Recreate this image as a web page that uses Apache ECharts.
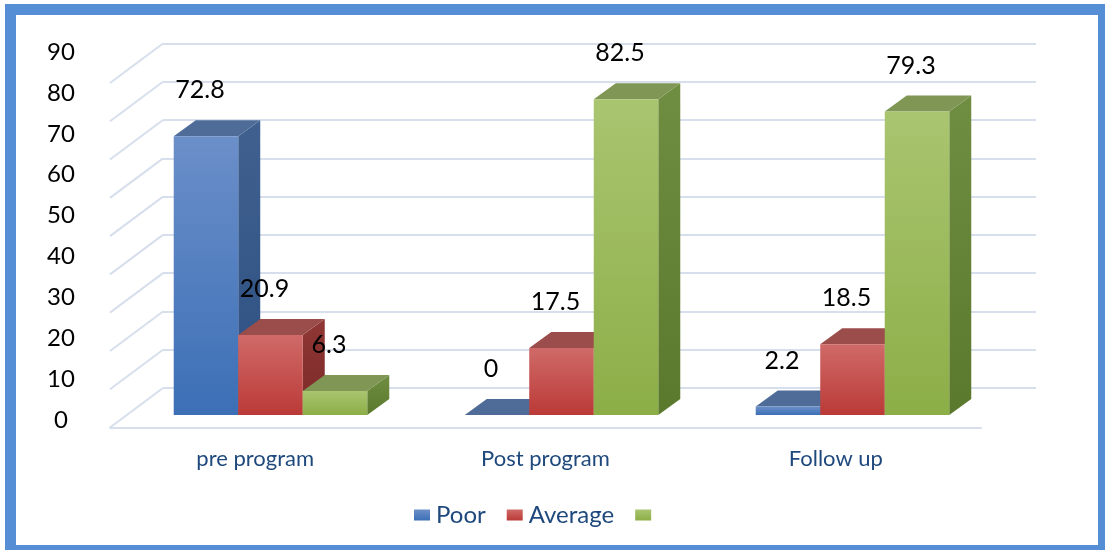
<!DOCTYPE html>
<html>
<head>
<meta charset="utf-8">
<script src="https://cdn.jsdelivr.net/npm/echarts@6/dist/echarts.min.js"></script>
<style>
html,body{margin:0;padding:0;background:#fff;}
#chart{width:1105px;height:550px;}
</style>
</head>
<body>
<div id="chart"></div>
<script>
// ---- data ----
const categories = ['pre program', 'Post program', 'Follow up'];
const seriesNames = ['Poor', 'Average', ' '];
const poor = [72.8, 0, 2.2];
const average = [20.9, 17.5, 18.5];
const third = [6.3, 82.5, 79.3];
const yTicks = [0, 10, 20, 30, 40, 50, 60, 70, 80, 90];

const values = [poor, average, third];
const FONT = 'Lato, "Open Sans", sans-serif';
const GRID_C = '#D7DFEC';

const palette = [
  { front: ['#6B8FC9', '#3C6FB6'], side: ['#40618F', '#2D5083'], top: '#4F6C98' },
  { front: ['#CF6A68', '#BB3A37'], side: ['#8F3735', '#7B2A28'], top: '#9B4D4B' },
  { front: ['#A9C570', '#8CAE47'], side: ['#6F8E41', '#5A792D'], top: '#7F9654' }
];
function vgrad(c) {
  return new echarts.graphic.LinearGradient(0, 0, 0, 1, [
    { offset: 0, color: c[0] }, { offset: 1, color: c[1] }
  ]);
}

const DX = 22, DY = -16, FRONT_DY = 27;

function barGeom(api, s) {
  const ci = api.value(0), v = api.value(1);
  const top = api.coord([ci, v]);
  const base = api.coord([ci, 0]);
  const band = api.size([1, 0])[0];
  const bw = band * 0.2217;
  const cx = top[0] - band * 0.1306;
  const x0 = cx - 1.5 * bw + s * bw;
  return { x0: x0, x1: x0 + bw, yT: top[1] + FRONT_DY, yB: base[1] + FRONT_DY, bw: bw };
}

function makeBarSeries(s) {
  return {
    type: 'custom',
    name: seriesNames[s],
    xAxisIndex: 0, yAxisIndex: 0,
    clip: false,
    z: 3,
    itemStyle: { color: vgrad(palette[s].front) },
    data: categories.map((c, i) => [i, values[s][i]]),
    encode: { x: 0, y: 1 },
    renderItem: function (params, api) {
      const g = barGeom(api, s);
      const p = palette[s];
      return {
        type: 'group',
        children: [
          { type: 'polygon', shape: { points: [[g.x1, g.yT], [g.x1 + DX, g.yT + DY], [g.x1 + DX, g.yB + DY], [g.x1, g.yB]] },
            style: { fill: vgrad(p.side) } },
          { type: 'polygon', shape: { points: [[g.x0, g.yT], [g.x0 + DX, g.yT + DY], [g.x1 + DX, g.yT + DY], [g.x1, g.yT]] },
            style: { fill: p.top } },
          { type: 'rect', shape: { x: g.x0, y: g.yT, width: g.bw, height: Math.max(0, g.yB - g.yT) },
            style: { fill: vgrad(p.front) } }
        ]
      };
    }
  };
}

const labelData = [];
values.forEach((arr, s) => arr.forEach((v, i) => labelData.push([i, v, s])));

const option = {
  animation: false,
  backgroundColor: '#fff',
  grid: [
    { left: 163, right: 69, top: 43.5, bottom: 162 },
    { left: 110, right: 124, top: 43, bottom: 122 },
    { left: 92, width: 10, top: 52, bottom: 130 }
  ],
  xAxis: [
    { gridIndex: 0, type: 'category', data: categories, show: false },
    { gridIndex: 1, type: 'category', data: categories,
      axisLine: { lineStyle: { color: GRID_C, width: 2 } }, axisTick: { show: false },
      axisLabel: { color: '#1F497D', fontSize: 22, fontFamily: FONT, margin: 20 } },
    { gridIndex: 2, type: 'category', data: categories, show: false }
  ],
  yAxis: [
    { gridIndex: 0, type: 'value', min: 0, max: 90, interval: 10,
      axisLine: { show: false }, axisTick: { show: false }, axisLabel: { show: false },
      splitLine: { lineStyle: { color: GRID_C, width: 2 } } },
    { gridIndex: 1, type: 'value', min: 0, max: 90, show: false },
    { gridIndex: 2, type: 'value', min: 0, max: 90, interval: 10,
      data: yTicks,
      axisLine: { show: false }, axisTick: { show: false }, splitLine: { show: false },
      axisLabel: { color: '#000', fontSize: 24, fontFamily: FONT, align: 'center', margin: 31 } }
  ],
  legend: {
    data: seriesNames,
    left: 409, top: 498,
    itemWidth: 16, itemHeight: 11, itemGap: 21,
    icon: 'rect',
    textStyle: { color: '#1F497D', fontSize: 24, fontFamily: FONT, padding: [0, 0, 0, 1] }
  },
  graphic: [
    { type: 'rect', shape: { x: 10.5, y: 9.5, width: 1093, height: 541 },
      style: { fill: 'none', stroke: '#558ED5', lineWidth: 11 }, z: 100 }
  ],
  series: [
    {
      type: 'custom', xAxisIndex: 0, yAxisIndex: 0, clip: false, z: 1, silent: true,
      data: yTicks.map(v => [0, v]),
      renderItem: function (params, api) {
        const x = params.coordSys.x;
        const p = api.coord([0, api.value(1)]);
        return { type: 'line', shape: { x1: x, y1: p[1], x2: x - 53, y2: p[1] + 39.5 },
          style: { stroke: GRID_C, lineWidth: 2 } };
      }
    },
    makeBarSeries(0),
    makeBarSeries(1),
    makeBarSeries(2),
    {
      type: 'custom', xAxisIndex: 0, yAxisIndex: 0, clip: false, z: 10, silent: true,
      data: labelData,
      renderItem: function (params, api) {
        const s = api.value(2);
        const g = barGeom(api, s);
        return { type: 'text', x: (g.x0 + g.x1) / 2 - 6, y: g.yT - 46,
          style: { text: String(api.value(1)), fill: '#000', fontSize: 25, fontFamily: FONT,
            align: 'center', verticalAlign: 'middle' } };
      }
    }
  ]
};

const chart = echarts.init(document.getElementById('chart'), null, { renderer: 'canvas' });
chart.setOption(option);
</script>
</body>
</html>
